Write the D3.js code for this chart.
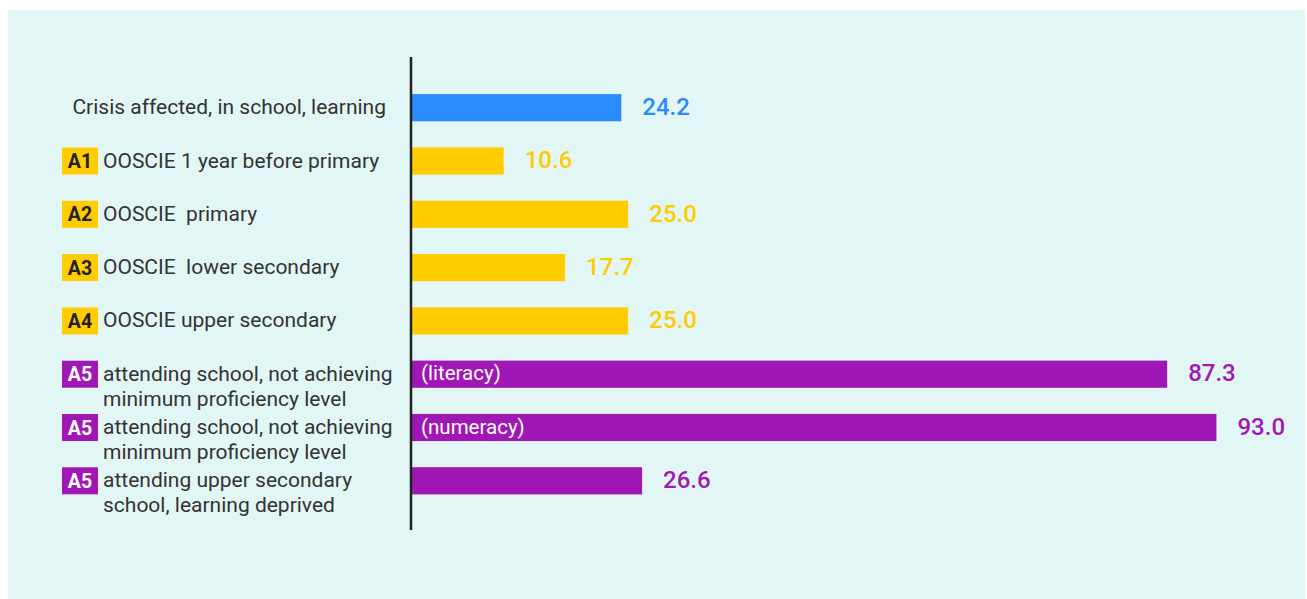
<!DOCTYPE html>
<html>
<head>
<meta charset="utf-8">
<script src="https://cdn.jsdelivr.net/npm/d3@7"></script>
<style>
  html, body { margin: 0; padding: 0; background: #ffffff; }
  svg { display: block; }
  text { font-family: Roboto, "Noto Sans", sans-serif; }
</style>
</head>
<body>
<div class="chart"></div>
<script>
// categories (line breaks marked with \n)
var categories = [
    "Crisis affected, in school, learning",
    "OOSCIE 1 year before primary",
    "OOSCIE  primary",
    "OOSCIE  lower secondary",
    "OOSCIE upper secondary",
    "attending school, not achieving\nminimum proficiency level",
    "attending school, not achieving\nminimum proficiency level ",
    "attending upper secondary\nschool, learning deprived"
];
var values = [24.2, 10.6, 25.0, 17.7, 25.0, 87.3, 93.0, 26.6];
var badges = ["", "A1", "A2", "A3", "A4", "A5", "A5", "A5"];
var groups = ["crisis", "access", "access", "access", "access", "learning", "learning", "learning"];
var barNotes = ["", "", "", "", "", "(literacy)", "(numeracy)", ""];

var rows = categories.map(function(c, i) {
    return { cat: c, value: values[i], badge: badges[i], group: groups[i], note: barNotes[i] };
});

var width = 1307, height = 599;
var x0 = 412;

var color = d3.scaleOrdinal()
    .domain(["crisis", "access", "learning"])
    .range(["#2a8bff", "#ffcc00", "#a117b5"]);
var badgeText = d3.scaleOrdinal()
    .domain(["crisis", "access", "learning"])
    .range(["#222222", "#222222", "#ffffff"]);

var x = d3.scaleLinear().domain([0, 100]).range([x0, 1277]);
var y = d3.scaleBand()
    .domain(categories)
    .range([68, 520.5])
    .paddingInner(0.49)
    .paddingOuter(0.49);

var svg = d3.select(".chart").append("svg")
    .attr("width", width)
    .attr("height", height);

svg.append("rect")
    .attr("x", 8).attr("y", 10)
    .attr("width", 1297).attr("height", 589)
    .attr("fill", "#e3f6f6");

var fmt = d3.format(".1f");

var row = svg.selectAll("g.row")
    .data(rows)
    .enter().append("g")
    .attr("class", "row")
    .attr("transform", function(d) { return "translate(0," + (y(d.cat) + y.bandwidth() / 2) + ")"; });

row.append("rect")
    .attr("x", x(0))
    .attr("y", -y.bandwidth() / 2)
    .attr("width", function(d) { return x(d.value) - x(0); })
    .attr("height", y.bandwidth())
    .attr("fill", function(d) { return color(d.group); });

row.append("text")
    .attr("x", function(d) { return x(d.value) + 21; })
    .attr("dy", "0.3em")
    .style("font-size", "24px")
    .style("font-weight", 500)
    .attr("fill", function(d) { return color(d.group); })
    .text(function(d) { return fmt(d.value); });

row.filter(function(d) { return d.note; })
    .append("text")
    .attr("x", x(0) + 9)
    .attr("dy", "0.3em")
    .style("font-size", "20.5px")
    .attr("fill", "#ffffff")
    .text(function(d) { return d.note; });

// badges
var b = row.filter(function(d) { return d.badge; });
b.append("rect")
    .attr("x", 62).attr("y", -13.5)
    .attr("width", 36).attr("height", 27)
    .attr("fill", function(d) { return color(d.group); });
b.append("text")
    .attr("x", 80).attr("dy", "0.36em")
    .attr("text-anchor", "middle")
    .style("font-size", "19.5px")
    .style("font-weight", 700)
    .attr("fill", function(d) { return badgeText(d.group); })
    .text(function(d) { return d.badge; });

// category labels
var lab = row.append("text")
    .attr("text-anchor", function(d) { return d.badge ? "start" : "end"; })
    .style("font-size", "21px")
    .style("white-space", "pre")
    .attr("fill", "#333333");

lab.selectAll("tspan")
    .data(function(d) {
        return d.cat.trim().split("\n").map(function(t) { return { t: t, badge: d.badge }; });
    })
    .enter().append("tspan")
    .attr("x", function(d) { return d.badge ? 103 : 386; })
    .attr("y", function(d, i) { return 6.5 + i * 25; })
    .text(function(d) { return d.t; });

// vertical axis line
svg.append("line")
    .attr("x1", 411).attr("x2", 411)
    .attr("y1", 57).attr("y2", 530)
    .attr("stroke", "#222222")
    .attr("stroke-width", 2.5);
</script>
</body>
</html>
